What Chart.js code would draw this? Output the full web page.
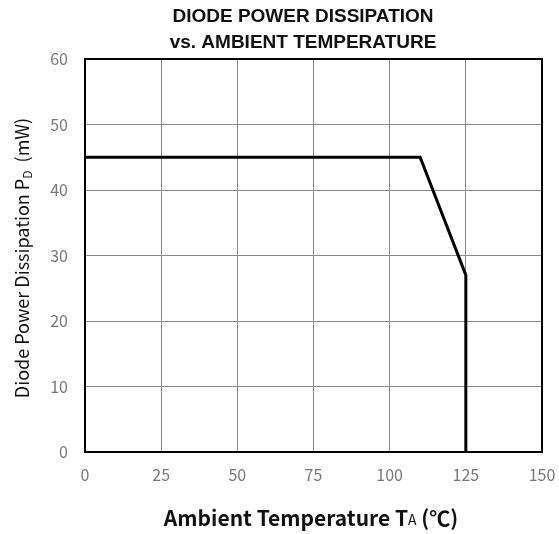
<!DOCTYPE html>
<html lang="en">
<head>
    <meta charset="UTF-8" />
    <title>Diode Power Dissipation vs. Ambient Temperature</title>
    <script src="https://cdn.jsdelivr.net/npm/chart.js"></script>
    <style>
        html, body { margin: 0; padding: 0; background: #fff; }
        #wrap { width: 559px; height: 534px; position: relative; }
    </style>
</head>
<body>
    <div id="wrap"><canvas id="pdChart"></canvas></div>

    <script>
        // derating curve
        const tempC = [0, 110, 125, 125];
        const powerMW = [45, 45, 27, 0];
        const xTicks = [0, 25, 50, 75, 100, 125, 150];
        const yTicks = [0, 10, 20, 30, 40, 50, 60];
        const titleLines = ['DIODE POWER DISSIPATION', 'vs. AMBIENT TEMPERATURE'];

        const tickFont = '"Noto Sans CJK JP", "Noto Sans", sans-serif';

        // draws a list of [text, font, dy] pieces one after another, centred on x
        function drawPieces(ctx, pieces, x, y) {
            let total = 0;
            pieces.forEach(p => { ctx.font = p[1]; total += ctx.measureText(p[0]).width; });
            let cx = x - total / 2;
            pieces.forEach(p => {
                ctx.font = p[1];
                ctx.fillText(p[0], cx, y + (p[2] || 0));
                cx += ctx.measureText(p[0]).width;
            });
        }

        const textPlugin = {
            id: 'textPlugin',
            afterDraw(chart) {
                const ctx = chart.ctx;
                const area = chart.chartArea;
                ctx.save();

                // frame around plot area
                ctx.strokeStyle = '#000';
                ctx.lineWidth = 2;
                ctx.strokeRect(area.left, area.top, area.right - area.left, area.bottom - area.top);

                ctx.fillStyle = '#111';
                ctx.textBaseline = 'middle';
                ctx.textAlign = 'left';

                // main title
                const tf = 'bold 19px "Liberation Sans", Arial, sans-serif';
                drawPieces(ctx, [[titleLines[0], tf]], 303, 17);
                drawPieces(ctx, [[titleLines[1], tf]], 303, 43);

                // x axis title
                const bx = 'bold 21px ' + tickFont;
                drawPieces(ctx, [
                    ['Ambient Temperature T', bx],
                    ['A', '14px ' + tickFont, 2],
                    [' (℃)', bx]
                ], 311, 518);

                // y axis title, rotated
                ctx.translate(22, 258);
                ctx.rotate(-Math.PI / 2);
                const ry = '18px ' + tickFont;
                drawPieces(ctx, [
                    ['Diode Power Dissipation P', ry],
                    ['D', '12px ' + tickFont, 5],
                    ['  (mW)', ry]
                ], 0, 0);

                ctx.restore();
            }
        };

        const ctx = document.getElementById('pdChart').getContext('2d');
        new Chart(ctx, {
            type: 'line',
            data: {
                datasets: [{
                    data: tempC.map((t, i) => ({ x: t, y: powerMW[i] })),
                    borderColor: '#000',
                    borderWidth: 3,
                    pointRadius: 0,
                    tension: 0,
                    fill: false
                }]
            },
            options: {
                responsive: true,
                maintainAspectRatio: false,
                animation: false,
                layout: { padding: { left: 0, top: 59, right: 17, bottom: 0 } },
                plugins: {
                    legend: { display: false },
                    tooltip: { enabled: false }
                },
                scales: {
                    x: {
                        type: 'linear',
                        min: 0,
                        max: 150,
                        afterBuildTicks: s => { s.ticks = xTicks.map(v => ({ value: v })); },
                        afterFit: s => {
                            s.height = 82;
                            s.paddingLeft = 0;
                            s.paddingRight = 0;
                        },
                        grid: { color: '#8a8a8a', lineWidth: 1, drawTicks: false },
                        border: { display: false },
                        ticks: {
                            padding: 13,
                            color: '#777',
                            font: { family: tickFont, size: 16 },
                            maxRotation: 0
                        }
                    },
                    y: {
                        min: 0,
                        max: 60,
                        afterBuildTicks: s => { s.ticks = yTicks.map(v => ({ value: v })); },
                        afterFit: s => {
                            s.width = 85;
                            s.paddingTop = 0;
                            s.paddingBottom = 0;
                        },
                        grid: { color: '#8a8a8a', lineWidth: 1, drawTicks: false },
                        border: { display: false },
                        ticks: {
                            padding: 17,
                            color: '#777',
                            font: { family: tickFont, size: 16 }
                        }
                    }
                }
            },
            plugins: [textPlugin]
        });
    </script>
</body>
</html>
